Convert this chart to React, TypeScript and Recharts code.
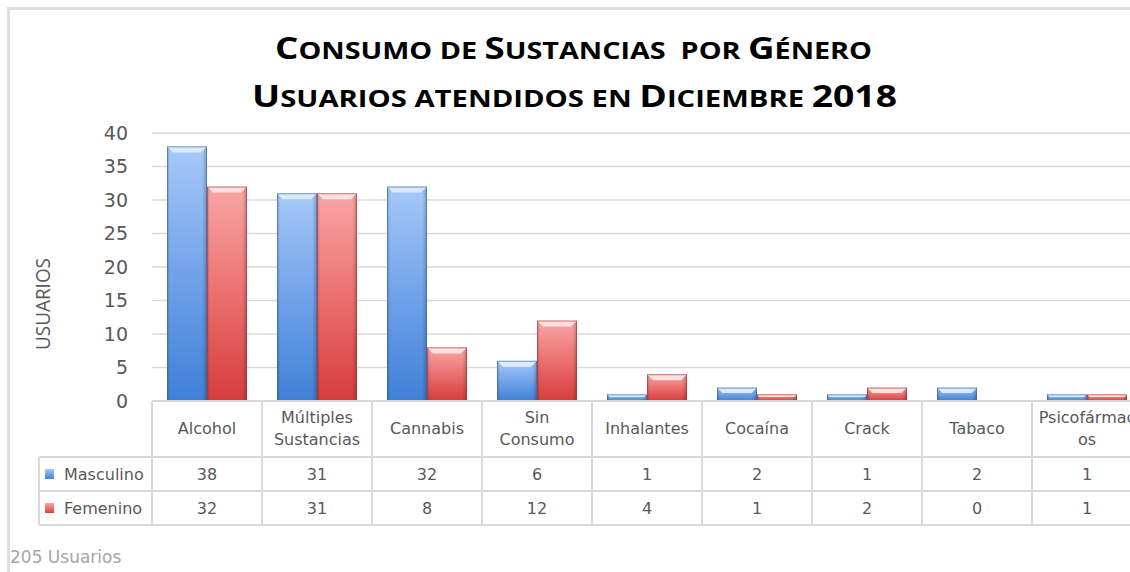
import { BarChart, Bar, XAxis, YAxis, CartesianGrid } from "recharts";

const categories = ["Alcohol", "Múltiples Sustancias", "Cannabis", "Sin Consumo", "Inhalantes", "Cocaína", "Crack", "Tabaco", "Psicofármacos"];
// how the header cells wrap the names
const headerLabels = [["Alcohol"], ["Múltiples", "Sustancias"], ["Cannabis"], ["Sin", "Consumo"], ["Inhalantes"], ["Cocaína"], ["Crack"], ["Tabaco"], ["Psicofármac", "os"]];
const masculino = [38, 31, 32, 6, 1, 2, 1, 2, 1];
const femenino = [32, 31, 8, 12, 4, 1, 2, 0, 1];
const yTicks = [0, 5, 10, 15, 20, 25, 30, 35, 40];
const totalLabel = "205 Usuarios";

const data = categories.map((name, i) => ({ name, masculino: masculino[i], femenino: femenino[i] }));

// layout
const PLOT_LEFT = 152;
const BAND = 110;
const PLOT_TOP = 133;
const PLOT_BOTTOM = 401;
const CHART_H = 425;
const ROW_LABEL_LEFT = 39;
const HEAD_BOTTOM = 457;
const ROW1_BOTTOM = 491;
const ROW2_BOTTOM = 525;
const GRID = "#d9d9d9";
const TEXT = "#595959";

const seriesRows = [
  { label: "Masculino", values: masculino, body: "url(#blueBody)" },
  { label: "Femenino", values: femenino, body: "url(#redBody)" },
];

function smallCaps(text: string) {
  const runs: { t: string; small: boolean }[] = [];
  for (const ch of text) {
    const isSmall = ch !== ch.toUpperCase() || (ch === " " && runs.length > 0 && runs[runs.length - 1].small);
    const last = runs[runs.length - 1];
    if (last && last.small === isSmall) last.t += ch.toUpperCase();
    else runs.push({ t: ch.toUpperCase(), small: isSmall });
  }
  return runs;
}

function TitleLine({ text, x, y, width }: { text: string; x: number; y: number; width: number }) {
  return (
    <text x={x} y={y} textLength={width} lengthAdjust="spacingAndGlyphs" fontFamily="'Open Sans', 'DejaVu Sans', sans-serif" fontWeight="bold" fill="#000" style={{ whiteSpace: "pre" }}>
      {smallCaps(text).map((r, i) => (
        <tspan key={i} fontSize={r.small ? 23.5 : 30}>{r.t}</tspan>
      ))}
    </text>
  );
}

const makeBar = (body: string, cap: string, edge: string) => (props: any) => {
  const { x, y, width, height } = props;
  if (!height || height <= 0) return <g />;
  const c = Math.min(6, height / 2.5, width / 4);
  return (
    <g>
      <rect x={x} y={y} width={width} height={height} fill={body} />
      <rect x={x} y={y} width={width} height={height} fill="url(#edgeShade)" />
      <polygon points={`${x},${y} ${x + width},${y} ${x + width - c},${y + c} ${x + c},${y + c}`} fill={cap} />
      <rect x={x + 0.5} y={y + 0.5} width={width - 1} height={height - 1} fill="none" stroke={edge} strokeOpacity={0.6} />
    </g>
  );
};

const blueBar = makeBar("url(#blueBody)", "#dbeafd", "#3566a8");
const redBar = makeBar("url(#redBody)", "#fde0e0", "#a83434");

export default function App() {
  const cellText = { fontFamily: "'DejaVu Sans', sans-serif", fontSize: 16, color: TEXT };
  return (
    <div style={{ position: "fixed", left: 0, top: 0, width: 1130, height: 572, overflow: "hidden", background: "#fff" }}>
      {/* frame */}
      <div style={{ position: "absolute", left: 7, top: 7, width: 1200, height: 700, borderTop: "3px solid #dedede", borderLeft: "3px solid #dedede" }} />

      <div style={{ position: "absolute", left: 0, top: 0 }}>
        <BarChart width={1150} height={CHART_H} data={data} margin={{ top: PLOT_TOP, right: 8, bottom: CHART_H - PLOT_BOTTOM, left: 0 }} barCategoryGap={15} barGap={0}>
          <defs>
            <linearGradient id="blueBody" x1="0" y1="0" x2="0" y2="1">
              <stop offset="0%" stopColor="#a6c9f8" />
              <stop offset="50%" stopColor="#72a3ea" />
              <stop offset="100%" stopColor="#3f80d6" />
            </linearGradient>
            <linearGradient id="redBody" x1="0" y1="0" x2="0" y2="1">
              <stop offset="0%" stopColor="#f9a6a6" />
              <stop offset="50%" stopColor="#ec7070" />
              <stop offset="100%" stopColor="#d63c3c" />
            </linearGradient>
            <linearGradient id="edgeShade" x1="0" y1="0" x2="1" y2="0">
              <stop offset="0%" stopColor="#000" stopOpacity={0.18} />
              <stop offset="8%" stopColor="#000" stopOpacity={0} />
              <stop offset="88%" stopColor="#000" stopOpacity={0} />
              <stop offset="100%" stopColor="#000" stopOpacity={0.22} />
            </linearGradient>
          </defs>
          <CartesianGrid vertical={false} stroke={GRID} strokeWidth={1.5} />
          <XAxis dataKey="name" hide />
          <YAxis width={PLOT_LEFT} domain={[0, 40]} ticks={yTicks} interval={0} tickLine={false} axisLine={false} tickSize={0} tickMargin={24} tick={{ fill: TEXT, fontSize: 19, fontFamily: "'DejaVu Sans', sans-serif" }} />
          <Bar dataKey="masculino" name="Masculino" shape={blueBar} isAnimationActive={false} />
          <Bar dataKey="femenino" name="Femenino" shape={redBar} isAnimationActive={false} />
        </BarChart>
      </div>

      {/* title and axis label */}
      <svg width={1130} height={572} style={{ position: "absolute", left: 0, top: 0, pointerEvents: "none" }}>
        <TitleLine text="Consumo de Sustancias  por Género" x={275} y={59} width={597} />
        <TitleLine text="Usuarios atendidos en Diciembre 2018" x={252} y={107} width={645} />
        <text x={50} y={304} transform="rotate(-90 50 304)" textAnchor="middle" textLength={92} lengthAdjust="spacingAndGlyphs" fontSize={20} fontFamily="'Open Sans', 'DejaVu Sans', sans-serif" fill={TEXT}>
          USUARIOS
        </text>
      </svg>

      {/* data table lines */}
      <div style={{ position: "absolute", left: PLOT_LEFT, top: PLOT_BOTTOM - 1, width: BAND * categories.length, height: 2, background: GRID }} />
      {[HEAD_BOTTOM, ROW1_BOTTOM, ROW2_BOTTOM].map((yy) => (
        <div key={yy} style={{ position: "absolute", left: ROW_LABEL_LEFT, top: yy - 1, width: PLOT_LEFT - ROW_LABEL_LEFT + BAND * categories.length, height: 2, background: GRID }} />
      ))}
      <div style={{ position: "absolute", left: ROW_LABEL_LEFT - 1, top: HEAD_BOTTOM, width: 2, height: ROW2_BOTTOM - HEAD_BOTTOM, background: GRID }} />
      {categories.concat([""]).map((_, i) => (
        <div key={"v" + i} style={{ position: "absolute", left: PLOT_LEFT + BAND * i - 1, top: PLOT_BOTTOM, width: 2, height: ROW2_BOTTOM - PLOT_BOTTOM, background: GRID }} />
      ))}

      {/* header cells */}
      {headerLabels.map((lines, i) => (
        <div key={"h" + i} style={{ ...cellText, position: "absolute", left: PLOT_LEFT + BAND * i, top: PLOT_BOTTOM, width: BAND, height: HEAD_BOTTOM - PLOT_BOTTOM, display: "flex", flexDirection: "column", justifyContent: "center", alignItems: "center", lineHeight: "22px", whiteSpace: "nowrap" }}>
          {lines.map((l, k) => <div key={k}>{l}</div>)}
        </div>
      ))}

      {/* series rows */}
      {seriesRows.map((row, r) => {
        const top = r === 0 ? HEAD_BOTTOM : ROW1_BOTTOM;
        const bottom = r === 0 ? ROW1_BOTTOM : ROW2_BOTTOM;
        return (
          <div key={row.label}>
            <div style={{ ...cellText, position: "absolute", left: ROW_LABEL_LEFT + 6, top, height: bottom - top, display: "flex", alignItems: "center" }}>
              <svg width={9} height={10} style={{ marginRight: 10 }}>
                <rect x={0} y={0} width={9} height={10} fill={row.body} />
              </svg>
              {row.label}
            </div>
            {row.values.map((v, i) => (
              <div key={i} style={{ ...cellText, position: "absolute", left: PLOT_LEFT + BAND * i, top, width: BAND, height: bottom - top, display: "flex", alignItems: "center", justifyContent: "center" }}>
                {v}
              </div>
            ))}
          </div>
        );
      })}

      <div style={{ position: "absolute", left: 10, top: 547, fontFamily: "'DejaVu Sans', sans-serif", fontSize: 17, color: "#a6a6a6" }}>{totalLabel}</div>
    </div>
  );
}
